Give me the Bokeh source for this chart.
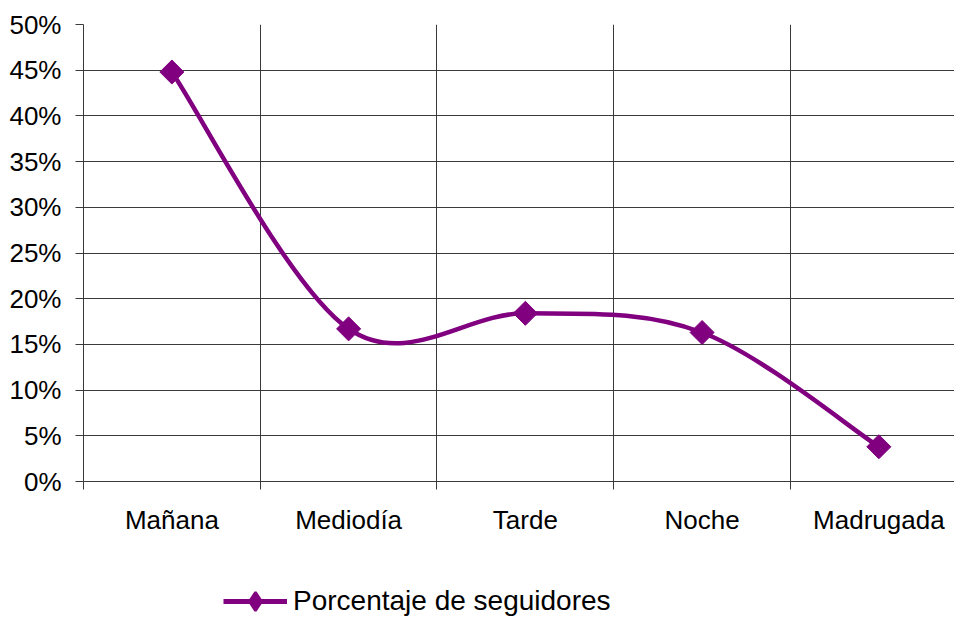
import numpy as np
from bokeh.plotting import figure
from bokeh.layouts import column
from bokeh.models import Range1d, FixedTicker, NumeralTickFormatter, Legend, LegendItem
from bokeh.embed import file_html
from bokeh.resources import INLINE

# ---- data ----
categories = ["Mañana", "Mediodía", "Tarde", "Noche", "Madrugada"]
porcentaje = [0.448, 0.167, 0.184, 0.163, 0.038]
series_name = "Porcentaje de seguidores"
y_ticks = [0.0, 0.05, 0.10, 0.15, 0.20, 0.25, 0.30, 0.35, 0.40, 0.45, 0.50]

PURPLE = "#800080"
GRID = "#3a3a3a"
FONT = "Liberation Sans"

n = len(categories)
xs = [i + 0.5 for i in range(n)]
bounds = list(range(n + 1))

p = figure(width=954, height=540, output_backend="svg", toolbar_location=None,
           x_range=Range1d(0, 4.928), y_range=Range1d(0, 0.5),
           min_border_left=83, min_border_right=0, min_border_top=24,
           min_border_bottom=59)
p.outline_line_color = None
p.background_fill_color = "white"

# grids
p.xgrid.ticker = FixedTicker(ticks=bounds)
p.ygrid.ticker = FixedTicker(ticks=y_ticks)
for g in (p.xgrid, p.ygrid):
    g.grid_line_color = GRID
    g.grid_line_width = 1

# y axis
p.yaxis.ticker = FixedTicker(ticks=y_ticks)
p.yaxis.formatter = NumeralTickFormatter(format="0%")
p.yaxis.major_tick_out = 8
p.yaxis.major_tick_in = 0
p.yaxis.major_tick_line_color = GRID
p.yaxis.minor_tick_line_color = None
p.yaxis.major_label_standoff = 14

# x axis
p.xaxis.ticker = FixedTicker(ticks=xs, minor_ticks=bounds)
p.xaxis.major_label_overrides = {x: c for x, c in zip(xs, categories)}
p.xaxis.major_tick_line_color = None
p.xaxis.minor_tick_out = 8
p.xaxis.minor_tick_in = 0
p.xaxis.minor_tick_line_color = GRID
p.xaxis.major_label_standoff = 15

for ax in (p.xaxis, p.yaxis):
    ax.axis_line_color = GRID
    ax.major_label_text_font = FONT
    ax.major_label_text_font_size = "26px"
    ax.major_label_text_color = "black"

# smoothed line (cubic Bezier segments through the data points)
pts = np.array(list(zip(xs, porcentaje)), dtype=float)
x0, y0, x1, y1, cx0, cy0, cx1, cy1 = ([] for _ in range(8))
for i in range(n - 1):
    a = pts[max(i - 1, 0)]
    b = pts[i]
    c = pts[i + 1]
    d = pts[min(i + 2, n - 1)]
    k0 = b + (c - a) / 6.0
    k1 = c - (d - b) / 6.0
    x0.append(b[0]); y0.append(b[1]); x1.append(c[0]); y1.append(c[1])
    cx0.append(k0[0]); cy0.append(k0[1]); cx1.append(k1[0]); cy1.append(k1[1])

p.bezier(x0=x0, y0=y0, x1=x1, y1=y1, cx0=cx0, cy0=cy0, cx1=cx1, cy1=cy1,
         line_color=PURPLE, line_width=4.5)

p.scatter(xs, porcentaje, marker="square", size=17, angle=np.pi / 4,
          fill_color=PURPLE, line_color=PURPLE)

# ---- legend strip below the chart ----
# (its ranges are set away from the data, so the series only shows up as the legend key)
leg = figure(width=954, height=76, output_backend="svg", toolbar_location=None,
             x_range=Range1d(100, 101), y_range=Range1d(100, 101),
             min_border_left=0, min_border_right=0, min_border_top=0, min_border_bottom=0)
leg.axis.visible = False
leg.grid.visible = False
leg.outline_line_color = None

lg_line = leg.line(xs, porcentaje, line_color=PURPLE, line_width=5)
lg_mark = leg.scatter(xs, porcentaje, marker="diamond", size=17,
                      fill_color=PURPLE, line_color=PURPLE, line_width=2.5)

legend = Legend(items=[LegendItem(label=series_name, renderers=[lg_line, lg_mark])],
                location=(140, -8), padding=0, margin=0, spacing=0,
                glyph_width=64, glyph_height=46, label_height=46, label_standoff=6,
                label_text_font=FONT, label_text_font_size="28px", label_text_color="black",
                border_line_color=None, background_fill_alpha=0)
leg.add_layout(legend)

layout = column(p, leg, spacing=0)
open("out.html", "w").write(file_html(layout, INLINE))
